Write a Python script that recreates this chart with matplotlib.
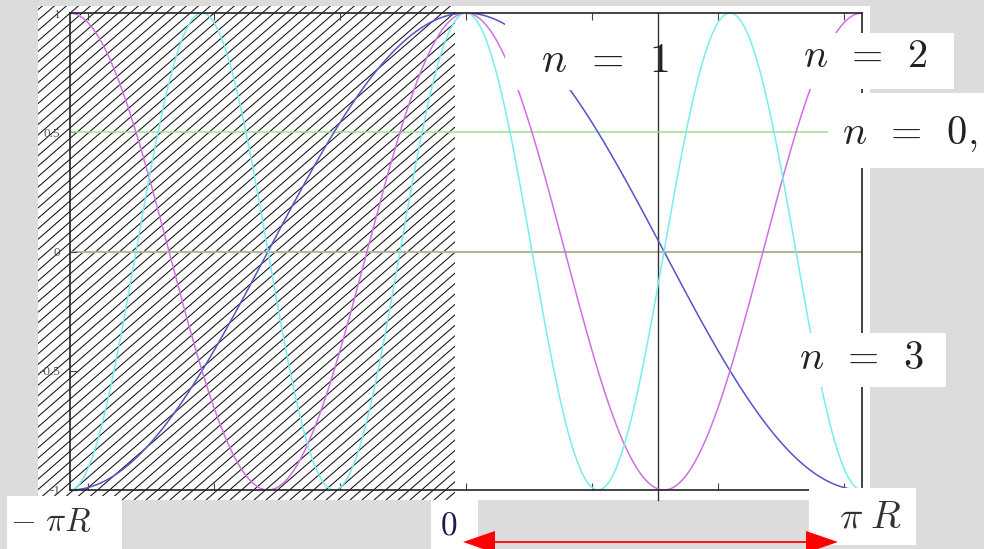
import numpy as np
import matplotlib.pyplot as plt
from matplotlib.patches import Rectangle, Polygon
from matplotlib.collections import LineCollection

plt.rcParams['mathtext.fontset'] = 'cm'

# cosine modes on the orbifold, x in units of R
modes = [0, 1, 2, 3]
amplitudes = [0.5, 1.0, 1.0, 1.0]
mode_colors = ['#98e28a', '#5454c8', '#d070e0', '#74eef0']
x_ticks = [-3, -2, -1, 0, 1, 2, 3]
y_ticks = [-1, -0.5, 0, 0.5, 1]
y_ticklabels = ['-1', '-0.5', '0', '0.5', '1']

W, H = 984, 549
fig = plt.figure(figsize=(W / 100, H / 100), dpi=100, facecolor='#dcdcdc')

# background layer in pixel coords: white sheet + hatched half
bg = fig.add_axes([0, 0, 1, 1], zorder=0)
bg.set_xlim(0, W)
bg.set_ylim(H, 0)
bg.axis('off')
bg.add_patch(Rectangle((38, 6), 832, 494, facecolor='white', edgecolor='none'))
hatch_box = Rectangle((38, 6), 417, 494, facecolor='none', edgecolor='none')
bg.add_patch(hatch_box)
# diagonal hatch, ~40 deg
slope = np.tan(np.radians(41))
gap = 12.0
segs = []
for x0 in np.arange(38 - 600, 470, gap):
    segs.append([(x0, 500), (x0 + 600, 500 - 600 * slope)])
hatch = LineCollection(segs, colors='#111111', linewidths=0.75)
bg.add_collection(hatch)
hatch.set_clip_path(hatch_box)

# plot area
ax = fig.add_axes([70 / W, 59 / H, 792 / W, 477 / H], zorder=1)
ax.set_facecolor('none')
ax.set_xlim(-np.pi, np.pi)
ax.set_ylim(-1, 1)

x = np.linspace(-np.pi, np.pi, 600)
ax.axhline(0, color='#b4b49c', lw=1.5, zorder=1)
ax.axvline(1.52, ymin=-0.022, ymax=1, color='#333333', lw=1.0, zorder=1,
           clip_on=False)
for n, a, c in zip(modes, amplitudes, mode_colors):
    ax.plot(x, a * np.cos(n * x), color=c, lw=1.1, zorder=2)

ax.set_xticks(x_ticks)
ax.set_xticklabels([])
ax.set_yticks(y_ticks)
ax.set_yticklabels(y_ticklabels, family='Liberation Serif', fontsize=9.5,
                   color='#555555')
ax.tick_params(axis='x', direction='in', top=True, bottom=True, length=5,
               width=0.8, color='#444444')
ax.tick_params(axis='y', direction='in', left=True, right=False, length=5,
               width=0.8, color='#444444', pad=7)
for s in ax.spines.values():
    s.set_linewidth(1.2)
    s.set_color('#222222')

# labels on top, in pixel coords
ov = fig.add_axes([0, 0, 1, 1], zorder=2)
ov.set_xlim(0, W)
ov.set_ylim(H, 0)
ov.axis('off')
ov.patch.set_visible(False)

boxes = [(505, 22, 145, 68), (797, 33, 157, 56), (828, 93, 156, 75),
         (795, 333, 151, 54), (7, 496, 115, 53), (431, 500, 47, 49),
         (809, 488, 107, 57)]
for bx, by, bw, bh in boxes:
    ov.add_patch(Rectangle((bx, by), bw, bh, facecolor='white', edgecolor='none'))

lab = dict(ha='left', va='center', color='#222222')
ov.text(541, 60, r'$n\enspace=\enspace1$', fontsize=30, **lab)
ov.text(803, 56, r'$n\enspace=\enspace2$', fontsize=29, **lab)
ov.text(842, 134, r'$n\enspace=\enspace0,$', fontsize=29, **lab)
ov.text(799, 358, r'$n\enspace=\enspace3$', fontsize=29, **lab)
ov.text(10, 522, r'$-\ \pi R$', fontsize=24, ha='left', va='center', color='#333333')
ov.text(440, 525, r'$\mathbf{0}$', fontsize=24, ha='left', va='center', color='#1a1a55')
ov.text(839, 517, r'$\pi\;R$', fontsize=28, ha='left', va='center', color='#333333')

# red double arrow under the right half
ov.plot([490, 812], [542, 542], color='red', lw=1.3)
ov.add_patch(Polygon([(463, 542), (495, 531), (495, 553)], closed=True,
                     facecolor='red', edgecolor='none', clip_on=False))
ov.add_patch(Polygon([(838, 542), (806, 531), (806, 553)], closed=True,
                     facecolor='red', edgecolor='none', clip_on=False))

fig.savefig('out.png', dpi=100, facecolor=fig.get_facecolor())
